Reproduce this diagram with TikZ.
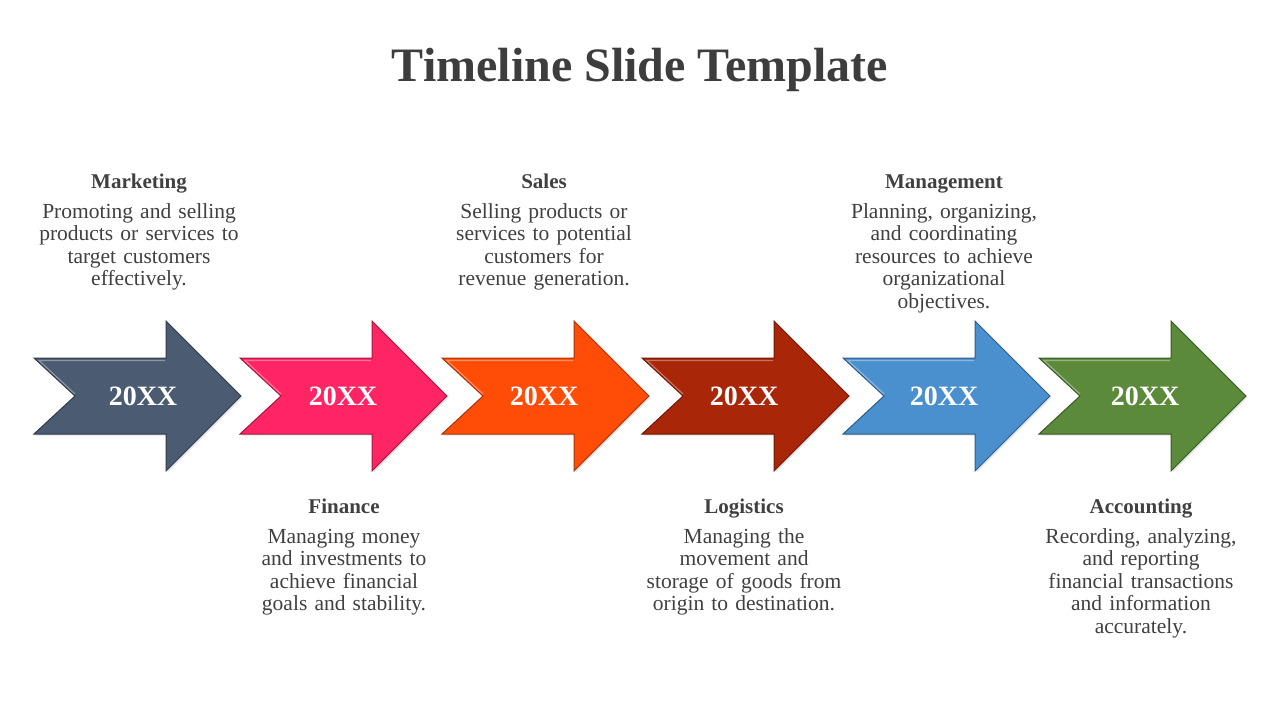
\documentclass[tikz,border=0pt]{standalone}
\usepackage{fontspec}
\setmainfont{Liberation Serif}
\usetikzlibrary{positioning}
\definecolor{slate}{HTML}{4B5B72}
\definecolor{pinkred}{HTML}{FF2463}
\definecolor{flame}{HTML}{FF4D08}
\definecolor{rust}{HTML}{AA2608}
\definecolor{skyblue}{HTML}{4A8FCE}
\definecolor{leaf}{HTML}{5B8A3A}
\definecolor{txt}{HTML}{404040}
\tikzset{
	title/.style={
		font=\fontsize{48}{52}\selectfont\bfseries,
		text=txt!95!black,
		inner sep=0pt},
	headline/.style={
		font=\fontsize{21}{24}\selectfont\bfseries,
		text=txt,
		inner sep=0pt,
		anchor=base},
	blurb/.style={
		font=\fontsize{21.5}{22.5}\selectfont,
		text=txt,
		text width=260pt,
		align=center,
		inner sep=0pt,
		anchor=base},
	year/.style={
		font=\fontsize{28}{30}\selectfont\bfseries,
		text=white,
		inner sep=0pt},
}

\begin{document}
\begin{tikzpicture}[x=1pt,y=-1pt]
	\useasboundingbox (0,0) rectangle (1280,720);
	\node[title] (heading) at (640,70) {Timeline Slide Template};
	
	% arrows
	\foreach \L/\X/\c/\n in {34/143/slate/1,240/343/pinkred/2,442/544/flame/3,642/744/rust/4,843/944/skyblue/5,1039/1145/leaf/6}{
		\fill[black,opacity=.1] (\L+1.5,359.5) -- (\L+133.5,359.5) -- (\L+133.5,322.5) -- (\L+208.5,397.5) -- (\L+133.5,472.5) -- (\L+133.5,435.5) -- (\L+1.5,435.5) -- (\L+42.5,397.5) -- cycle;
		\filldraw[fill=\c,draw=\c!65!black,line width=1pt,line join=miter] (\L,358) -- (\L+132,358) -- (\L+132,321) -- (\L+207,396) -- (\L+132,471) -- (\L+132,434) -- (\L,434) -- (\L+41,396) -- cycle;
		\draw[\c!55!white,line width=1.2pt,opacity=.8] (\L+41,394) -- (\L+5,360.5) -- (\L+131,360.5);
		\node[year] (yr\n) at (\X,396) {20XX};
	}
	
	% labels above
	\node[headline] (mark) at (139,188) {Marketing};
	\node[blurb] (markt) at (139,218) {Promoting and selling\\products or services to\\target customers\\effectively.};
	\node[headline] (sales) at (544,188) {Sales};
	\node[blurb] (salest) at (544,218) {Selling products or\\services to potential\\customers for\\revenue generation.};
	\node[headline] (mgmt) at (944,188) {Management};
	\node[blurb] (mgmtt) at (944,218) {Planning, organizing,\\and coordinating\\resources to achieve\\organizational\\objectives.};
	
	% labels below
	\node[headline] (fin) at (344,513) {Finance};
	\node[blurb] (fint) at (344,543) {Managing money\\and investments to\\achieve financial\\goals and stability.};
	\node[headline] (logi) at (744,513) {Logistics};
	\node[blurb] (logit) at (744,543) {Managing the\\movement and\\storage of goods from\\origin to destination.};
	\node[headline] (acc) at (1141,513) {Accounting};
	\node[blurb] (acct) at (1141,543) {Recording, analyzing,\\and reporting\\financial transactions\\and information\\accurately.};
\end{tikzpicture}
\end{document}
